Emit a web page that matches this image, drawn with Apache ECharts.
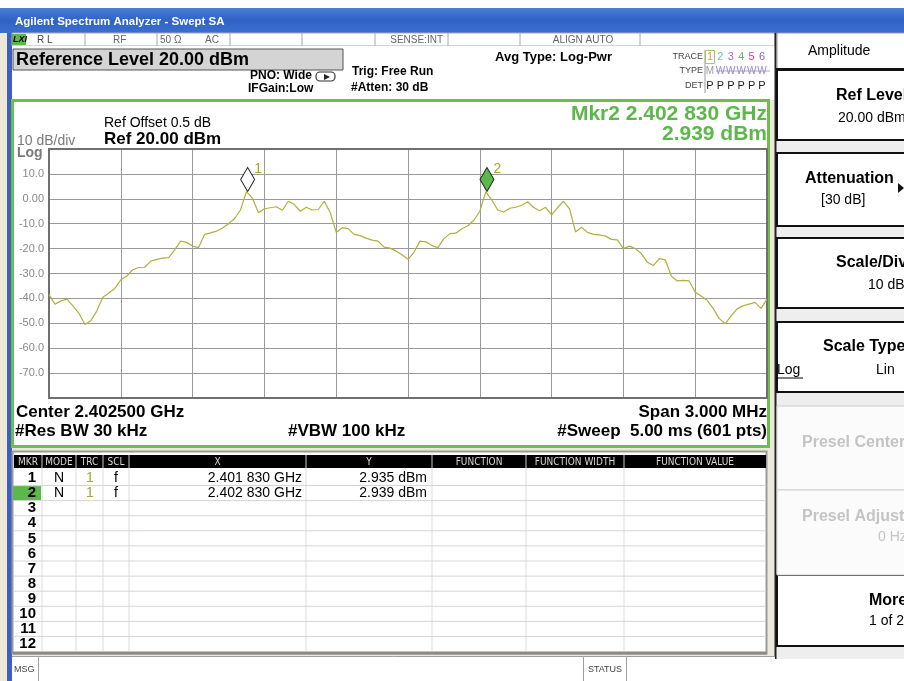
<!DOCTYPE html>
<html><head><meta charset="utf-8">
<script src="https://cdn.jsdelivr.net/npm/echarts@6/dist/echarts.min.js"></script>
<style>html,body{margin:0;padding:0;background:#fff}#c{width:904px;height:681px}</style>
</head><body><div id="c"></div>
<script>
// ---------------- data ----------------
const startGHz = 2.401;
const centerGHz = 2.4025;
const spanMHz = 3.0;
const stepKHz = 25;            // spacing of the read-off trace samples
const traceLevels = [
 -38.5,-42.3,-41,-40.3,-43,-46,-50.5,-49,-45,-39.5,
 -37.8,-36,-32.5,-31,-28.5,-27.6,-27.5,-25,-24.3,-23.8,
 -23.6,-20.5,-17,-17.5,-19,-19.6,-14.3,-13.7,-13,-11.7,
 -10,-8,-4.5,2.9,0.3,-5.6,-4,-3.6,-3.2,-4.6,
 -1,-2.3,-5,-3.4,-4.5,-4.3,-1,-5.5,-13.5,-11.6,
 -12,-14.3,-14.8,-15.8,-16.6,-17,-19.4,-19.8,-21,-22.5,
 -24.3,-21.5,-17,-17.3,-18.8,-19.6,-16,-14,-13.8,-12,
 -10.8,-8.6,-5,2.9,-0.5,-4.5,-5.3,-3.8,-3.4,-2.6,
 -1.2,-3.5,-4.8,-3.4,-6.5,-3.5,-1,-4,-13.3,-11.4,
 -13.5,-14.3,-14.5,-15,-16.3,-16.5,-20,-19,-20,-22,
 -25.5,-26.8,-24,-24.5,-31,-33,-32.8,-33,-37.5,-39,
 -40.8,-44,-48,-50.2,-47,-44.2,-43,-42.3,-41.6,-44,
 -40.3
];
const yMin = -80, yMax = 20, yStep = 10;
const mkrFreqGHz = [2.401830, 2.402830];
const mkrLevel = [2.935, 2.939];
const mkrRowLabels = ['1','2','3','4','5','6','7','8','9','10','11','12'];
const mkrMode = ['N','N'];
const mkrTrace = ['1','1'];
const mkrScale = ['f','f'];
const tableHeaders = ['MKR','MODE','TRC','SCL','X','Y','FUNCTION','FUNCTION WIDTH','FUNCTION VALUE'];
const traceNums = ['1','2','3','4','5','6'];
const traceColors = ['#e09a2a','#6ab4dc','#c457c4','#66bb66','#d6448a','#8a62c6'];

// ---------------- helpers ----------------
const F = '"Liberation Sans", Arial, sans-serif';
const G = [];
function T(text, x, y, size, opt) {
  opt = opt || {};
  G.push({type:'text', x:x, y:y, z: opt.z || 60, silent:true,
    style:{text:text, fill:opt.color||'#000',
      font:(opt.italic?'italic ':'')+(opt.bold?'bold ':'')+size+'px '+(opt.family||F),
      align:opt.align||'left', textAlign:opt.align||'left',
      verticalAlign:'middle', textVerticalAlign:'middle'}});
}
function R(x, y, w, h, fill, stroke, lw, z, r) {
  G.push({type:'rect', z: (z===undefined?-10:z), silent:true,
    shape:{x:x, y:y, width:w, height:h, r:r||0},
    style:{fill:fill||'none', stroke:stroke||'none', lineWidth:lw||1}});
}
function L(x1, y1, x2, y2, stroke, lw, z) {
  G.push({type:'line', z:(z===undefined?-5:z), silent:true,
    shape:{x1:x1,y1:y1,x2:x2,y2:y2}, style:{stroke:stroke, lineWidth:lw||1}});
}
function fmtGHz(f){ const s=f.toFixed(6); return s.slice(0,5)+' '+s.slice(5)+' GHz'; }

// ---------------- frame / chrome ----------------
R(0,0,904,681,'#ece9d8',null,1,-30);
R(0,0,904,8,'#ffffff',null,1,-29);
G.push({type:'rect', z:-29, silent:true, shape:{x:0,y:8,width:904,height:25},
  style:{fill:{type:'linear',x:0,y:0,x2:0,y2:1,colorStops:[{offset:0,color:'#4a7fd6'},{offset:0.5,color:'#2f62c4'},{offset:1,color:'#3a6fd0'}]}}});
T('Agilent Spectrum Analyzer - Swept SA', 15, 22, 11.5, {bold:true, color:'#ffffff'});
// left blue strip
R(7,33,5,648,'#3d5fc2',null,1,-28);

// status row
R(12,33,763,13,'#ffffff','#a8a8a8',1,-20);
[85,157,230,302,375,448,520,640].forEach(x=>L(x,33,x,46,'#a8a8a8',1,-19));
R(12,34,14,11,'#5cb84a',null,1,-18);
T('LXI', 13, 40, 9, {bold:true, italic:true, color:'#000'});
T('R L', 37, 40, 10, {color:'#444'});
T('RF', 113, 40, 10, {color:'#666'});
T('50 Ω', 160, 40, 10, {color:'#666'});
T('AC', 205, 40, 10, {color:'#666'});
T('SENSE:INT', 443, 40, 10, {color:'#666', align:'right'});
T('ALIGN AUTO', 583, 40, 10, {color:'#666', align:'center'});

// header area
R(12,46,763,54,'#ffffff',null,1,-20);
R(13,49,330,21,'#d4d4d4','#555',1,-15);
T('Reference Level 20.00 dBm', 16, 60, 18, {bold:true});
T('PNO: Wide', 250, 76, 12, {bold:true});
R(316,72,19,9,'none','#333',1.2,10,4);
G.push({type:'polygon', z:11, silent:true, shape:{points:[[324,74],[324,80],[330,77]]}, style:{fill:'#222'}});
T('IFGain:Low', 248, 89, 12, {bold:true});
T('Trig: Free Run', 352, 72, 12, {bold:true});
T('#Atten: 30 dB', 351, 88, 12, {bold:true});
T('Avg Type: Log-Pwr', 495, 57, 13, {bold:true});
T('TRACE', 703, 57, 9, {color:'#444', align:'right'});
T('TYPE', 703, 71, 9, {color:'#444', align:'right'});
T('DET', 703, 86, 9, {color:'#444', align:'right'});
L(705,50,705,93,'#999',1,5);
R(705.5,50.5,9,13,'none','#9ccc6a',1,6);
traceNums.forEach((n,k)=>{
  const x = 710 + 10.4*k;
  T(n, x, 57, 11, {color:traceColors[k], align:'center'});
  T(k===0?'M':'W', x, 71, 10, {color:k===0?'#999':'#9a8ac8', align:'center'});
  T('P', x, 86, 11, {color:'#222', align:'center'});
});
L(716,71,770,71,'#9a8ac8',0.8,61);

// plot box
R(12.5,100.5,756,346,'#ffffff','#6cc04a',3,-15);
T('Ref Offset 0.5 dB', 104, 123, 14);
T('Ref 20.00 dBm', 104, 139, 17, {bold:true});
T('10 dB/div', 17, 141, 14, {color:'#7a7a7a'});
T('Log', 17, 153, 14, {color:'#7a7a7a', bold:true});
const m2 = mkrFreqGHz.length-1;
T('Mkr'+(m2+1)+' '+fmtGHz(mkrFreqGHz[m2]), 767, 114, 21, {bold:true, color:'#5cb84a', align:'right'});
T(mkrLevel[m2].toFixed(3)+' dBm', 767, 134, 21, {bold:true, color:'#5cb84a', align:'right'});
T('Center '+centerGHz.toFixed(6)+' GHz', 16, 412, 17, {bold:true});
T('#Res BW 30 kHz', 15, 431, 17, {bold:true});
T('#VBW 100 kHz', 288, 431, 17, {bold:true});
T('Span '+spanMHz.toFixed(3)+' MHz', 767, 412, 17, {bold:true, align:'right'});
T('#Sweep  5.00 ms (601 pts)', 767, 431, 17, {bold:true, align:'right'});

// marker table
R(12.5,451.5,754,202,'#ffffff','#9a9a9a',2,-15);
L(13,653,767,653,'#8a8a8a',3,-14);
R(14,455,752,13,'#000000',null,1,-12);
const colX = [14,42,76,103,129,306,432,526,624,766];
for (let c=0;c<tableHeaders.length;c++){
  T(tableHeaders[c], (colX[c]+colX[c+1])/2, 462, 10, {color:'#d8d8d8', align:'center', family:'"DejaVu Sans Condensed","DejaVu Sans",sans-serif'});
  if (c>0) { L(colX[c],455,colX[c],468,'#888',1.5,-11); L(colX[c],468,colX[c],651,'#dcdcdc',1,-11); }
}
const rowH = 15.1, row0 = 478;
mkrRowLabels.forEach((lab,r)=>{
  const y = row0 + rowH*r;
  if (r < mkrRowLabels.length-1) L(14, y+7.5, 766, y+7.5, '#d6d6d6', 1, -11);
  if (r === m2) R(13, y-7, 28, 14, '#5cb84a', null, 1, -10);
  T(lab, 36, y, 15, {bold:true, align:'right'});
  if (r < mkrFreqGHz.length) {
    T(mkrMode[r], 59, y, 14, {align:'center'});
    T(mkrTrace[r], 90, y, 14, {align:'center', color:'#a6a630'});
    T(mkrScale[r], 116, y, 14, {align:'center'});
    T(fmtGHz(mkrFreqGHz[r]), 302, y, 14, {align:'right'});
    T(mkrLevel[r].toFixed(3)+' dBm', 427, y, 14, {align:'right'});
  }
});

// message bar
R(12,656,763,25,'#ffffff',null,1,-15);
L(12,656.5,775,656.5,'#a0a0a0',1,-14);
L(38.5,657,38.5,681,'#a0a0a0',1,-14);
L(583.5,657,583.5,681,'#a0a0a0',1,-14);
L(626.5,657,626.5,681,'#a0a0a0',1,-14);
T('MSG', 14, 670, 9, {color:'#444'});
T('STATUS', 605, 670, 9, {color:'#444', align:'center'});

// right soft-key panel
R(775,33,129,626,'#eeeeee',null,1,-20);
R(775,659,129,22,'#ffffff',null,1,-19);
L(775.5,33,775.5,659,'#222',2,-18);
R(777,33,130,36,'#ffffff','#999',1,-17);
L(776,69,904,69,'#111',2,-16);
[[70,140],[153,226],[238,308],[322,392],[575,646]].forEach(b=>R(777,b[0],130,b[1]-b[0],'#ffffff','#111',2,-17));
[[406,490],[490,575]].forEach(b=>R(777,b[0],130,b[1]-b[0],'#fbfbfb','#cfcfcf',1,-17));
T('Amplitude', 808, 51, 14);
T('Ref Level', 836, 96, 16, {bold:true});
T('20.00 dBm', 838, 118, 14);
T('Attenuation', 805, 179, 16, {bold:true});
G.push({type:'polygon', z:20, silent:true, shape:{points:[[898,183],[898,193],[904,188]]}, style:{fill:'#111'}});
T('[30 dB]', 821, 200, 14);
T('Scale/Div', 836, 263, 16, {bold:true});
T('10 dB', 868, 285, 14);
T('Scale Type', 823, 347, 16, {bold:true});
T('Log', 777, 370, 14);
L(777,378,803,378,'#000',1,20);
T('Lin', 876, 370, 14);
T('Presel Center', 802, 443, 16, {bold:true, color:'#c4c4c4'});
T('Presel Adjust', 802, 517, 16, {bold:true, color:'#c4c4c4'});
T('0 Hz', 878, 537, 14, {color:'#c4c4c4'});
T('More', 869, 601, 16, {bold:true});
T('1 of 2', 869, 621, 14);

// ---------------- chart ----------------
const traceData = traceLevels.map((v,i)=>[i*stepKHz, v]);
const chart = echarts.init(document.getElementById('c'), null, {renderer:'canvas'});
chart.setOption({
  animation:false,
  backgroundColor:'#ece9d8',
  graphic:{elements:G},
  grid:{left:49, top:149, width:718, height:249, show:true, borderColor:'#707070', borderWidth:2, backgroundColor:'transparent', z:1},
  xAxis:{type:'value', min:0, max:spanMHz*1000, interval:300,
    axisLabel:{show:false}, axisTick:{show:false}, axisLine:{show:false},
    splitLine:{show:true, lineStyle:{color:'#9a9a9a', width:1}}},
  yAxis:{type:'value', min:yMin, max:yMax, interval:yStep,
    axisTick:{show:false}, axisLine:{show:false},
    splitLine:{show:true, lineStyle:{color:'#9a9a9a', width:1}},
    axisLabel:{margin:5, color:'#8a8a8a', fontSize:11, fontFamily:F,
      formatter:v=> (v===yMax||v===yMin) ? '' : (v===0 ? '0.00' : v.toFixed(1))}},
  series:[{
    type:'line', data:traceData, showSymbol:false, z:5,
    lineStyle:{color:'#b0b03c', width:1.2},
    markPoint:{
      symbol:'diamond', symbolSize:[14,24], symbolOffset:[0,-12],
      data: mkrFreqGHz.map((f,k)=>({
        coord:[Math.round((f-startGHz)*1e6), mkrLevel[k]],
        itemStyle:{color: k===m2 ? '#5cb84a' : '#ffffff', borderColor:'#222', borderWidth:1},
        label:{show:true, formatter:String(k+1), position:[14,-5], color:'#a6a630', fontSize:14, fontFamily:F}
      }))
    }
  }]
});
</script></body></html>
